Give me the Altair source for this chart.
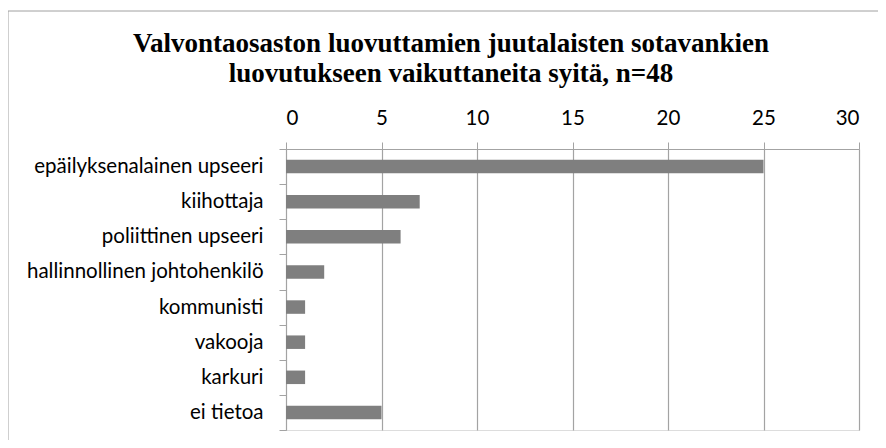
import altair as alt
import pandas as pd

categories = [
    "epäilyksenalainen upseeri",
    "kiihottaja",
    "poliittinen upseeri",
    "hallinnollinen johtohenkilö",
    "kommunisti",
    "vakooja",
    "karkuri",
    "ei tietoa",
]
counts = [25, 7, 6, 2, 1, 1, 1, 5]
x_ticks = [0, 5, 10, 15, 20, 25, 30]
title_lines = [
    "Valvontaosaston luovuttamien juutalaisten sotavankien",
    "luovutukseen vaikuttaneita syitä, n=48",
]

df = pd.DataFrame({"syy": categories, "lkm": counts})
one = pd.DataFrame({"k": [0]})

W, H = 573, 281
PAD_L, PAD_T = 278, 141
GRID = "#a3a3a3"
LABEL_FONT = "Lato"

bars = alt.Chart(df).mark_bar(color="#7f7f7f", size=13.5).encode(
    y=alt.Y(
        "syy:N",
        sort=categories,
        title=None,
        scale=alt.Scale(paddingInner=0, paddingOuter=0),
        axis=alt.Axis(
            orient="left",
            domainColor=GRID,
            tickColor=GRID,
            tickSize=7,
            tickBand="extent",
            labelPadding=16,
            labelLimit=400,
            labelFont=LABEL_FONT,
            labelFontSize=20.5,
            labelColor="#000000",
            grid=False,
        ),
    ),
    x=alt.X(
        "lkm:Q",
        title=None,
        scale=alt.Scale(domain=[0, 30], nice=False),
        axis=alt.Axis(
            orient="top",
            values=x_ticks,
            domainColor=GRID,
            tickColor=GRID,
            tickSize=7,
            labelPadding=14,
            labelFont=LABEL_FONT,
            labelFontSize=20.5,
            labelColor="#000000",
            grid=True,
            gridColor=GRID,
            gridWidth=1.2,
        ),
    ),
)

frame_left = alt.Chart(one).mark_rule(color="#a0a0a0", strokeWidth=1).encode(
    x=alt.value(-PAD_L), y=alt.value(-PAD_T + 3), y2=alt.value(H + 200)
)
frame_top = alt.Chart(one).mark_rule(color="#a0a0a0", strokeWidth=1).encode(
    x=alt.value(-PAD_L), x2=alt.value(W + 200), y=alt.value(-PAD_T + 3)
)

title_style = dict(
    font="Liberation Serif",
    fontSize=27,
    fontWeight="bold",
    color="#000000",
    align="center",
    baseline="alphabetic",
)
title1 = alt.Chart(one).mark_text(**title_style).encode(
    text=alt.value(title_lines[0]), x=alt.value(165), y=alt.value(-97)
)
title2 = alt.Chart(one).mark_text(**title_style).encode(
    text=alt.value(title_lines[1]), x=alt.value(165), y=alt.value(-67)
)

chart = (
    alt.layer(frame_left, frame_top, bars, title1, title2)
    .properties(
        width=W,
        height=H,
        autosize=alt.AutoSizeParams(type="none"),
        padding={"left": PAD_L, "top": PAD_T, "right": 19, "bottom": 10},
    )
    .configure_view(stroke=None)
    .configure(background="#ffffff")
)

chart.save("out.html", embed_options={"renderer": "svg", "actions": False})
